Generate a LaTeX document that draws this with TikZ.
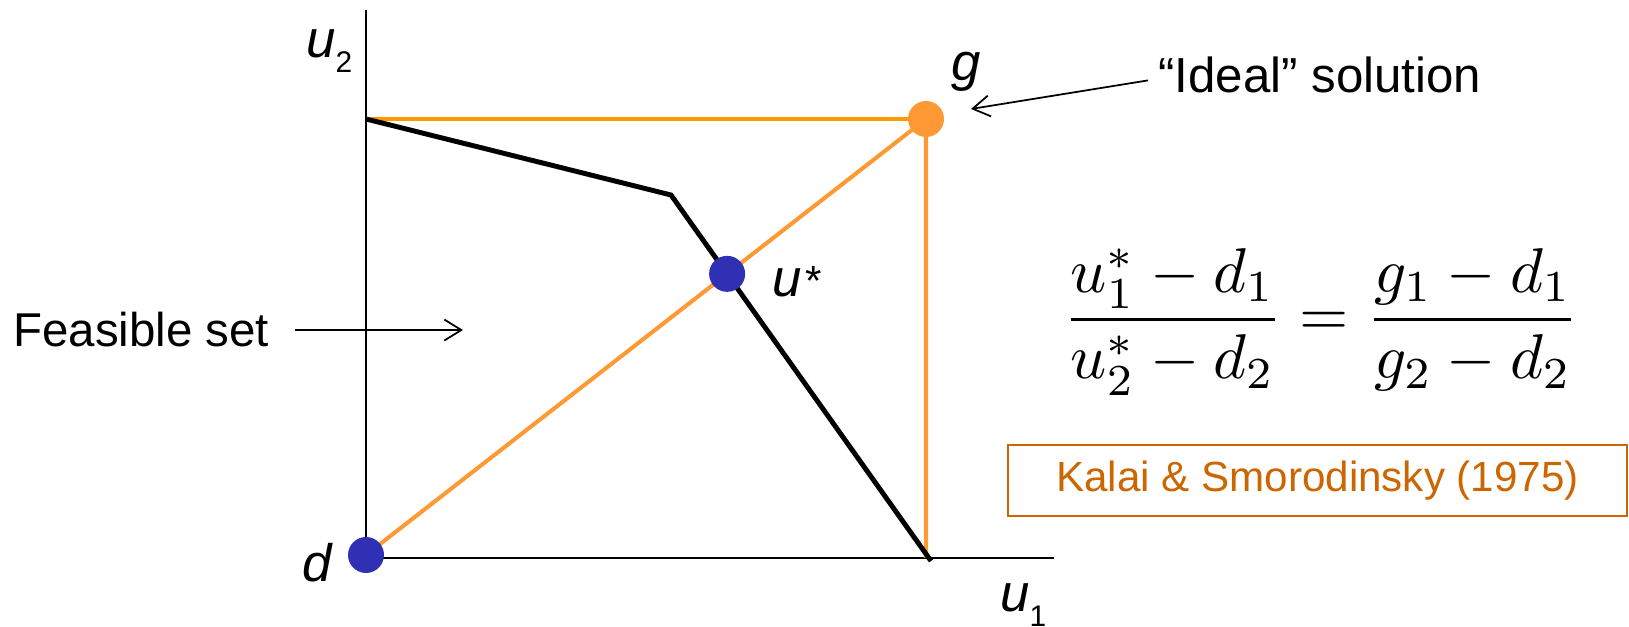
\documentclass[tikz,border=0pt]{standalone}
\usepackage[no-math]{fontspec}
\setmainfont{Liberation Sans}
\usepackage{graphicx}
\usetikzlibrary{arrows.meta}
\definecolor{ksorange}{RGB}{255,153,51}
\definecolor{ksamber}{RGB}{255,153,0}
\definecolor{ksblue}{RGB}{48,48,180}
\definecolor{ksbrown}{RGB}{204,102,0}
\newcommand{\varsub}[2]{\textit{#1}\raisebox{-8pt}{\fontsize{17}{17}\selectfont #2}}

\begin{document}
\begin{tikzpicture}[font=\fontsize{27}{30}\selectfont,
  axis/.style={line width=1.1pt},
  frontier/.style={line width=2.8pt},
  ideal/.style={ksorange,line width=2.3pt},
  pt/.style={circle,inner sep=0pt,minimum size=.72cm},
  lbl/.style={anchor=base west,inner sep=0pt,font=\fontsize{30}{34}\selectfont},
  pointer/.style={line width=1pt,-{Straight Barb[length=.34cm,width=.42cm]}}]
\useasboundingbox (0,0) rectangle (32.58,12.54);
\coordinate (o) at (7.32,1.38);
\coordinate (ytop) at (7.32,12.34);
\coordinate (xend) at (21.08,1.38);
\coordinate (d) at (7.32,1.44);
\coordinate (g) at (18.52,10.16);
\coordinate (top) at (7.32,10.16);
\coordinate (kink) at (13.42,8.64);
\coordinate (foot) at (18.62,1.32);
\coordinate (gfoot) at (18.52,1.38);
\coordinate (ustar) at (intersection of d--g and kink--foot);
\draw[axis] (ytop) -- (o) -- (xend);
\draw[ksamber,line width=2.3pt] (top) -- (g);
\draw[ideal] (d) -- (g) -- (gfoot);
\draw[frontier] (top) -- (kink) -- (foot);
\node[pt,fill=ksblue] (dpt) at (d) {};
\node[pt,fill=ksblue] (upt) at (ustar) {};
\node[pt,fill=ksorange] (gpt) at (g) {};
\node[lbl] (u2lbl) at (6.12,11.38) {\varsub{u}{2}};
\node[lbl] (glbl) at (19.02,10.92) {\textit{g}};
\node[lbl] (ulbl) at (15.44,6.6) {\textit{u}\hspace{2pt}\raisebox{1pt}{\fontsize{24}{24}\selectfont *}};
\node[lbl] (dlbl) at (6.04,.9) {\textit{d}};
\node[lbl] (u1lbl) at (20,.3) {\varsub{u}{1}};
\node[anchor=base west,inner sep=0pt] (feas) at (.26,5.6) {Feasible set};
\coordinate (feastip) at (9.26,5.9);
\draw[pointer] ([xshift=.5cm]feas.east) -- (feas.east -| feastip);
\node[anchor=base west,inner sep=0pt,font=\fontsize{28}{30}\selectfont] (ideal) at (23.16,10.68) {“Ideal” solution};
\coordinate (gtip) at (19.42,10.36);
\draw[pointer] ([xshift=-.2cm,yshift=-.1cm]ideal.west) -- (gtip);
\node[font=\fontsize{10}{12}\selectfont] (eq) at (26.42,6.1) {\scalebox{3.6}{$\displaystyle\frac{u_1^*-d_1}{u_2^*-d_2}=\frac{g_1-d_1}{g_2-d_2}$}};
\node[draw=ksbrown,text=ksbrown,line width=1pt,minimum width=12.38cm,minimum height=1.42cm,inner sep=0pt,font=\fontsize{24}{28}\selectfont] (ks) at (26.35,2.93) {Kalai \& Smorodinsky (1975)};
\end{tikzpicture}
\end{document}
